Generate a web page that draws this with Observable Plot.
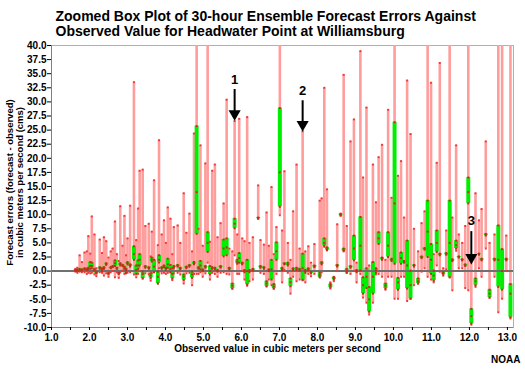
<!DOCTYPE html>
<html><head><meta charset="utf-8">
<script src="https://cdn.jsdelivr.net/npm/d3@7"></script>
<script src="https://cdn.jsdelivr.net/npm/@observablehq/plot@0.6"></script>
<style>body{margin:0;background:#fff} svg{display:block}</style>
</head><body><div id="chart"></div>
<script>
// Observed values (x) and ensemble forecast error box statistics
const obs = [
1.63,1.68,1.74,1.80,1.87,1.93,1.97,2.02,2.06,2.13,
2.18,2.27,2.33,2.38,2.44,2.50,2.56,2.61,2.67,2.72,
2.77,2.81,2.87,2.92,2.96,3.00,3.07,3.17,3.23,3.28,
3.32,3.40,3.47,3.56,3.61,3.64,3.70,3.80,3.83,3.90,
3.96,4.01,4.06,4.13,4.18,4.22,4.32,4.39,4.48,4.55,
4.63,4.70,4.75,4.82,4.87,4.92,4.98,5.05,5.11,5.17,
5.23,5.30,5.37,5.45,5.53,5.61,5.68,5.76,5.82,5.89,
5.94,6.02,6.08,6.15,6.21,6.30,6.44,6.50,6.59,6.66,
6.72,6.79,6.85,6.92,7.01,7.07,7.13,7.22,7.29,7.36,
7.45,7.53,7.61,7.68,7.76,7.83,7.92,8.06,8.11,8.18,
8.25,8.34,8.43,8.52,8.61,8.69,8.77,8.87,8.96,9.03,
9.13,9.20,9.29,9.36,9.46,9.54,9.61,9.70,9.79,9.86,
9.95,10.03,10.12,10.20,10.28,10.36,10.45,10.54,10.65,10.74,
10.82,10.90,10.99,11.06,11.14,11.22,11.31,11.39,11.48,11.55,
11.65,11.72,11.81,11.89,11.97,12.05,12.16,12.25,12.32,12.43,
12.53,12.66,12.76,12.86,12.97,13.08];
const low = [
-0.1,-0.3,-0.1,-0.2,-0.2,-0.5,-0.3,-0.4,-0.3,-0.6,
-0.9,-0.2,-0.3,-0.8,-0.4,-1.0,-0.2,0.0,-1.1,-0.2,
-1.2,-0.2,0.1,-0.5,-0.4,-0.3,-0.2,-0.6,-1.1,-0.5,
0.0,-1.3,-0.4,-0.6,-1.7,-0.3,-0.2,-2.2,0.5,-0.4,
-0.3,-0.5,-0.3,-0.2,-1.6,-0.4,-0.3,-0.6,-2.2,-0.4,
-0.3,-2.5,-0.5,-0.5,-0.5,-0.2,-1.0,-0.4,1.5,-1.5,
-0.3,-0.5,-1.0,-0.3,-0.2,-0.5,-0.6,-3.1,2.8,-0.5,
-0.5,0.0,-1.5,-2.6,-1.8,-1.5,9.3,-0.3,-0.5,-2.7,
-1.5,-2.5,-3.1,-0.5,9.9,-2.0,0.2,-0.3,-4.0,-1.0,
-1.8,-1.5,-1.6,-2.0,-0.5,-0.9,-0.5,-1.1,-0.2,4.3,
3.7,-3.1,-1.8,0.0,9.8,3.5,-0.3,-0.5,0.0,-2.0,
-0.5,-4.7,-5.6,-7.7,-5.6,-0.6,-0.5,-1.0,-3.3,-1.0,
-1.0,-4.9,-4.9,-1.0,-1.0,-5.3,-4.9,-2.5,-2.2,-0.1,
0.5,-1.0,-1.5,-2.0,1.0,-0.1,-0.8,0.3,-1.1,-3.4,
3.6,0.5,0.5,-3.0,-3.4,-9.5,-2.8,0.5,-1.0,4.0,
-4.7,-1.0,-7.3,-4.9,0.0,-8.4];
const q1v = [
0.0,0.0,0.1,0.1,0.3,0.2,0.3,0.4,0.5,0.1,
-0.4,0.4,0.0,0.4,1.1,-0.5,0.5,0.7,0.9,0.4,
-0.5,1.0,0.9,0.4,-0.3,1.2,0.8,2.0,-0.5,0.4,
1.0,-1.3,0.6,0.4,-1.2,1.7,-0.2,-2.2,1.5,0.4,
0.7,0.3,0.6,-0.2,-1.3,0.6,0.8,0.3,-1.6,0.5,
0.8,-1.2,1.2,6.6,0.4,0.3,0.0,0.6,3.4,-0.6,
0.4,0.3,-0.1,0.6,2.6,2.8,0.3,-3.1,7.6,1.3,
1.5,1.2,-0.2,-2.4,-0.2,0.1,9.3,0.6,0.4,-2.7,
0.0,-1.5,-3.1,2.0,11.4,0.2,1.2,1.0,-2.7,0.2,
0.2,0.1,-1.6,-0.3,0.2,-0.4,0.7,-1.1,1.2,4.5,
3.7,-2.9,-1.5,0.8,9.9,3.6,-0.3,0.6,1.9,-0.2,
0.1,-4.0,-3.0,-7.2,-4.0,-0.3,4.8,2.0,-3.1,2.5,
1.8,1.3,-3.3,1.3,1.5,-3.1,-4.9,0.8,-2.2,2.3,
3.8,2.5,-0.5,-1.7,3.4,2.8,-0.6,2.9,-1.1,1.8,
4.0,2.4,1.9,0.9,12.0,-9.3,-2.5,2.9,1.9,6.3,
-4.7,1.9,-2.8,-3.3,1.9,-8.2];
const medv = [
0.1,0.1,0.2,0.2,0.4,0.3,0.45,0.9,0.9,0.25,
-0.3,0.55,0.3,0.55,1.25,-0.4,0.6,0.8,1.4,0.5,
-0.4,1.2,1.0,0.6,0.1,1.4,1.0,3.0,0.2,1.0,
2.0,-0.5,0.75,0.55,-0.8,2.0,0.8,-1.0,2.0,0.55,
0.85,0.45,1.2,0.4,-0.5,0.75,0.95,0.45,-1.0,0.65,
0.95,-0.6,1.4,14.0,0.55,1.0,0.15,0.75,5.0,0.0,
0.55,0.45,0.05,0.75,4.0,4.2,0.45,-2.6,8.4,1.6,
2.3,1.35,0.0,0.0,0.0,0.25,9.4,0.75,0.55,-2.2,
0.15,0.3,-2.7,3.5,17.5,0.4,1.3,1.2,-2.0,0.35,
0.4,0.25,0.5,0.0,0.35,-0.3,0.85,-0.7,1.4,5.0,
3.9,-2.6,-1.3,0.95,10.0,3.8,0.0,0.75,4.0,0.0,
4.5,-2.5,-1.0,-5.0,-1.0,0.1,5.8,2.2,-2.6,4.5,
2.0,12.0,-2.0,2.3,1.65,1.0,-2.5,0.95,-1.8,2.45,
3.95,7.0,2.0,-0.8,5.0,2.95,-0.4,3.05,5.0,1.95,
4.6,2.5,2.0,1.05,14.0,-8.0,-1.8,3.0,2.05,6.45,
-4.0,2.05,2.0,0.0,2.05,-4.0];
const q3v = [
0.2,0.3,0.4,0.3,0.5,0.4,0.6,1.6,1.5,0.4,
-0.2,0.7,0.5,0.7,1.4,-0.3,0.7,0.9,1.9,0.6,
-0.3,1.4,1.1,0.8,0.4,1.6,1.2,4.4,1.0,1.9,
3.0,-0.1,0.9,0.7,-0.4,2.4,2.0,-0.1,2.8,0.7,
1.0,0.6,2.2,1.1,0.5,0.9,1.1,0.6,-0.6,0.8,
1.1,-0.1,1.6,25.7,0.7,1.8,0.3,0.9,6.9,0.9,
0.7,0.6,0.2,0.9,5.6,5.8,0.6,-2.2,9.3,2.0,
3.2,1.5,0.2,2.0,0.2,0.4,9.5,0.9,0.7,-1.8,
0.3,2.0,-2.3,5.1,28.9,0.6,1.4,1.5,-1.3,0.5,
0.6,0.4,3.1,0.2,0.5,-0.2,1.0,-0.3,1.6,5.8,
4.2,-2.3,-1.1,1.1,10.1,4.0,0.4,0.9,6.3,0.2,
9.6,-1.1,0.5,-2.8,1.6,0.5,6.9,2.4,-2.2,6.9,
2.2,26.4,-1.2,3.3,1.8,5.4,0.1,1.1,-1.3,2.6,
4.1,12.5,4.8,0.1,7.2,3.1,-0.2,3.2,12.5,2.1,
5.4,2.6,2.1,1.2,16.6,-6.7,-1.3,3.1,2.2,6.6,
-3.3,2.2,8.1,3.9,2.2,-2.3];
const high = [
0.4,0.6,2.8,1.6,3.3,3.5,6.2,3.1,9.7,6.5,
0.5,5.6,3.2,6.0,5.3,2.4,3.5,4.0,8.8,3.0,
1.8,11.5,4.5,9.8,2.8,5.8,11.6,33.5,5.5,11.1,
17.8,18.0,8.0,8.4,2.6,7.0,16.1,4.6,23.2,6.5,
9.0,5.0,11.3,9.3,3.0,7.8,8.1,5.0,13.8,6.8,
10.2,3.5,24.4,55,7.5,22.3,4.5,19.1,55,5.2,
17.8,18.9,6.0,8.5,12.0,30.4,4.0,3.5,26.6,6.5,
27.0,5.8,5.3,27.3,5.0,6.0,15.2,5.5,4.7,10.4,
4.5,14.9,3.0,7.8,55,7.2,17.7,5.0,2.0,10.6,
18.9,4.0,24.8,3.5,4.4,1.5,4.8,12.5,12.9,32.5,
14.5,-2.0,-1.0,8.3,10.2,34.8,8.0,23.0,26.9,1.5,
39.0,16.6,29.0,1.0,18.9,12.2,20.2,22.4,2.0,28.6,
13.0,55,16.9,19.5,9.5,33.8,24.3,7.5,3.5,8.5,
10.6,55,33.4,3.0,19.2,36.9,0.5,7.2,55,9.5,
22.3,6.5,5.0,8.0,55,1.9,13.8,9.0,11.0,23.0,
5.0,6.5,55,55,6.3,55];

// Tick values
const xTicks = [1,2,3,4,5,6,7,8,9,10,11,12,13];
const xMinorTicks = [1.5,2.5,3.5,4.5,5.5,6.5,7.5,8.5,9.5,10.5,11.5,12.5];
const yTicks = [-10,-7.5,-5,-2.5,0,2.5,5,7.5,10,12.5,15,17.5,20,22.5,25,27.5,30,32.5,35,37.5,40];

// Annotations
const annoLabel = ["1","2","3"];
const annoX = [5.82, 7.61, 12.05];
const annoTextY = [34.0, 32.0, 8.9];
const annoTailY = [32.2, 30.2, 7.0];
const annoTipY = [27.2, 25.3, 1.7];

// Texts
const titleText = "Zoomed Box Plot of 30-hour Ensemble Forecast Errors Against\nObserved Value for Headwater Point at Williamsburg";
const yLabel = "Forecast errors (forecast - observed)\nin cubic meters per second (cms)";
const xLabel = "Observed value in cubic meters per second";
const credit = "NOAA";

const rows = obs.map((x, i) => ({x, lo: low[i], q1: q1v[i], med: medv[i], q3: q3v[i], hi: high[i]}));
const whiskerEnds = rows.flatMap(d => [{x: d.x, y: d.lo}, {x: d.x, y: d.hi}]);
const boxMarks = rows.flatMap(d => [{x: d.x, y: d.q1}, {x: d.x, y: d.med}, {x: d.x, y: d.q3}]);
const annos = annoLabel.map((label, i) => ({label, x: annoX[i], ty: annoTextY[i], tail: annoTailY[i], tip: annoTipY[i]}));

const font = "'Liberation Sans', Arial, Helvetica, sans-serif";
const chart = Plot.plot({
  width: 525, height: 370,
  marginLeft: 51, marginRight: 12, marginTop: 45, marginBottom: 43,
  style: {fontFamily: font, fontSize: "10px", fontWeight: "bold", color: "black", background: "white", overflow: "visible"},
  x: {domain: [1, 13.16], label: null},
  y: {domain: [-10, 40], label: null},
  marks: [
    Plot.frame({stroke: "#b0b0b0"}),
    Plot.ruleX(rows, {x: "x", y1: "lo", y2: "hi", stroke: "#ff9c9c", strokeWidth: 2.6, clip: true}),
    Plot.ruleX(rows, {x: "x", y1: "q1", y2: "q3", stroke: "#00ee00", strokeWidth: 4, clip: true}),
    Plot.ruleY([0], {stroke: "#707070", strokeWidth: 2}),
    Plot.dot(whiskerEnds, {x: "x", y: "y", symbol: "square", r: 1.1, fill: "#f03838", clip: true}),
    Plot.dot(boxMarks, {x: "x", y: "y", symbol: "square", r: 1.1, fill: "#c03018", clip: true}),
    Plot.ruleX([1], {stroke: "#808080"}),
    Plot.ruleY([-10], {stroke: "#808080"}),
    Plot.axisY({ticks: yTicks, tickFormat: d => d.toFixed(1), tickSize: 4, tickPadding: 1, label: null, fontSize: 10}),
    Plot.axisX({ticks: xTicks, tickFormat: d => d.toFixed(1), tickSize: 3, tickPadding: 3, label: null, fontSize: 10}),
    Plot.axisX({ticks: xMinorTicks, tickFormat: () => "", tickSize: 3, label: null}),
    Plot.ruleX(annos, {x: "x", y1: "tail", y2: "tip", stroke: "black", strokeWidth: 2}),
    Plot.dot(annos, {x: "x", y: "tip", symbol: "triangle", rotate: 180, r: 4.5, fill: "black", dy: -4}),
    Plot.text(annos, {x: "x", y: "ty", text: "label", fontSize: 13, fontWeight: "bold"}),
    Plot.text([titleText], {text: d => d, frameAnchor: "top-left", textAnchor: "start", lineAnchor: "top", dx: 4, dy: -35, fontSize: 14, lineHeight: 1.07, fontWeight: "bold"}),
    Plot.text([yLabel], {text: d => d, frameAnchor: "left", textAnchor: "middle", rotate: -90, dx: -37, dy: -4, fontSize: 9.5, lineHeight: 1.05, fontWeight: "bold"}),
    Plot.text([xLabel], {text: d => d, frameAnchor: "bottom", dx: -5, dy: 24, fontSize: 10, fontWeight: "bold"}),
    Plot.text([credit], {text: d => d, frameAnchor: "bottom-right", textAnchor: "end", dx: 7, dy: 35, fontSize: 10, fontWeight: "bold"})
  ]
});
document.getElementById("chart").append(chart);
</script>
</body></html>
